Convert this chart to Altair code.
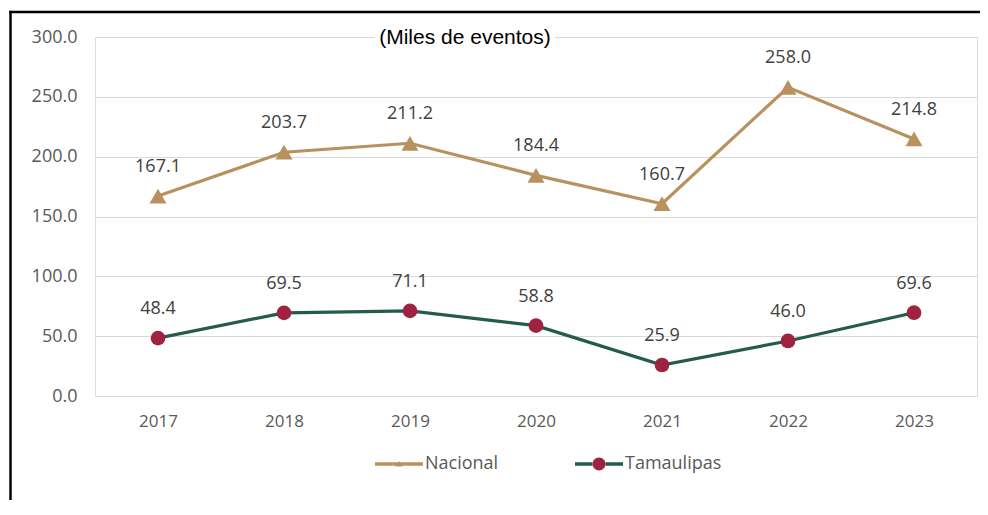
import altair as alt
import pandas as pd

years = ["2017", "2018", "2019", "2020", "2021", "2022", "2023"]
nacional = [167.1, 203.7, 211.2, 184.4, 160.7, 258.0, 214.8]
tamaulipas = [48.4, 69.5, 71.1, 58.8, 25.9, 46.0, 69.6]
series_names = ["Nacional", "Tamaulipas"]
y_ticks = [0, 50, 100, 150, 200, 250, 300]
title_text = "(Miles de eventos)"

TAN = "#B8925E"
GREEN = "#235B4E"
MAROON = "#9F2241"
FONT = "Open Sans"

rows = []
for y, v in zip(years, nacional):
    rows.append({"year": y, "value": v, "series": series_names[0]})
for y, v in zip(years, tamaulipas):
    rows.append({"year": y, "value": v, "series": series_names[1]})
df = pd.DataFrame(rows)

W, H = 882, 359

x_enc = alt.X("year:O", scale=alt.Scale(type="point", padding=0.5),
              axis=alt.Axis(title=None, labelAngle=0, ticks=False, domain=False, grid=False,
                            labelFont=FONT, labelFontSize=17, labelColor="#595959", labelPadding=17))
y_enc = alt.Y("value:Q", scale=alt.Scale(domain=[0, 300], nice=False),
              axis=alt.Axis(title=None, values=y_ticks, format=".1f", ticks=False, domain=False,
                            gridColor="#d9d9d9", gridWidth=1.2,
                            labelFont=FONT, labelFontSize=18, labelColor="#595959", labelPadding=18))

base = alt.Chart(df)

common = dict(orient="none", direction="horizontal", title=None, symbolSize=2304,
              labelFont=FONT, labelFontSize=18, labelLimit=300)

line_sym = "M-1,0L-0.27,0M0.27,0L1,0"
tri_sym = ("M-0.28,-0.07L0.28,-0.07L0.28,0.07L-0.28,0.07Z"
           "M0,-0.13L0.16,0.1L-0.16,0.1Z")
circ_sym = "M-0.27,0A0.27,0.27 0 1,1 0.27,0A0.27,0.27 0 1,1 -0.27,0Z"

LEG_Y = 401
legend_x = {"Nacional": 278, "Tamaulipas": 478}
line_colors = {"Nacional": TAN, "Tamaulipas": GREEN}
dot_colors = {"Nacional": TAN, "Tamaulipas": MAROON}


def line_layer(name):
    return base.transform_filter(alt.datum.series == name).mark_line(strokeWidth=3.2).encode(
        x=x_enc, y=y_enc,
        color=alt.Color("series:N", scale=alt.Scale(domain=[name], range=[line_colors[name]]),
                        legend=alt.Legend(symbolType=line_sym, symbolStrokeWidth=3.4,
                                          symbolFillColor="rgba(0,0,0,0)", labelOffset=0,
                                          labelColor="#595959", legendX=legend_x[name],
                                          legendY=LEG_Y, **common)))


def dot_legend(name, sym):
    return alt.Legend(symbolType=sym, symbolStrokeWidth=0, labelExpr="''",
                      legendX=legend_x[name] + 2, legendY=LEG_Y + 2, **common)


line_nac = line_layer("Nacional")
line_tam = line_layer("Tamaulipas")

tri = base.transform_filter(alt.datum.series == "Nacional").mark_point(
    shape="triangle-up", filled=True, size=290, opacity=1).encode(
    x=x_enc, y=y_enc,
    fill=alt.Fill("series:N", scale=alt.Scale(domain=["Nacional"], range=[dot_colors["Nacional"]]),
                  legend=dot_legend("Nacional", tri_sym)))
dots = base.transform_filter(alt.datum.series == "Tamaulipas").mark_circle(
    size=216, opacity=1).encode(
    x=x_enc, y=y_enc,
    fill=alt.Fill("series:N", scale=alt.Scale(domain=["Tamaulipas"], range=[dot_colors["Tamaulipas"]]),
                  legend=dot_legend("Tamaulipas", circ_sym)))

labels = base.mark_text(dy=-29, font=FONT, fontSize=18, color="#404040").encode(
    x=x_enc, y=y_enc, text=alt.Text("value:Q", format=".1f"))

one = alt.Data(values=[{"k": 1}])
title_bg = alt.Chart(one).mark_rect(color="white").encode(
    x=alt.value(280), x2=alt.value(460), y=alt.value(-10), y2=alt.value(10))
title = alt.Chart(one).mark_text(text=title_text, font="Liberation Sans", fontSize=21,
                                 color="black", align="center", baseline="middle").encode(
    x=alt.value(370), y=alt.value(1))
border_left = alt.Chart(one).mark_rule(color="black", strokeWidth=2.5).encode(
    x=alt.value(-84.5), y=alt.value(-26.2), y2=alt.value(600))
border_top = alt.Chart(one).mark_rule(color="black", strokeWidth=2.5).encode(
    x=alt.value(-85.7), x2=alt.value(1000), y=alt.value(-25))

chart = alt.layer(border_left, border_top, line_nac, line_tam, tri, dots, labels,
                  title_bg, title).resolve_scale(
    color="independent", fill="independent").resolve_legend(
    color="independent", fill="independent").properties(
    width=W, height=H,
    autosize=alt.AutoSizeParams(type="none"),
    padding={"left": 87, "top": 29, "right": 3, "bottom": 104},
).configure_view(strokeWidth=0, stroke="transparent").configure(background="white")

chart.save("out.html", embed_options={"renderer": "svg", "actions": False})
